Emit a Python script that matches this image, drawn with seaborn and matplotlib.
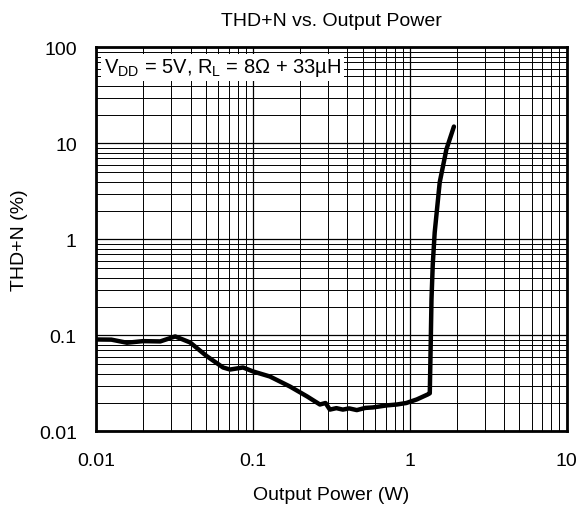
import matplotlib
matplotlib.use("Agg")
import matplotlib.pyplot as plt
import matplotlib.ticker as mticker
import pandas as pd
import seaborn as sns

# values
power_w = [0.0101, 0.0125, 0.0157, 0.0199, 0.0256, 0.0319, 0.0397, 0.0507,
           0.0644, 0.0714, 0.0864, 0.1, 0.128, 0.172, 0.221, 0.267, 0.29,
           0.309, 0.34, 0.374, 0.41, 0.459, 0.52, 0.581, 0.714, 0.826,
           0.95, 1.11, 1.30, 1.34, 1.36, 1.374, 1.40, 1.44, 1.55, 1.71, 1.91]
thd_pct = [0.0908, 0.0905, 0.084, 0.0873, 0.0867, 0.0977, 0.0846, 0.0609,
           0.0464, 0.0442, 0.0464, 0.0422, 0.0374, 0.0294, 0.0232, 0.0191,
           0.0198, 0.0169, 0.0175, 0.0169, 0.0174, 0.0167, 0.0176, 0.0178,
           0.0187, 0.0191, 0.0198, 0.0216, 0.0243, 0.025, 0.09, 0.237,
           0.55, 1.18, 3.93, 8.66, 15.0]

df = pd.DataFrame({"power": power_w, "thd": thd_pct})

sns.set_style("white")
plt.rcParams["font.family"] = ["Liberation Sans", "DejaVu Sans"]
plt.rcParams["mathtext.fontset"] = "custom"
plt.rcParams["mathtext.rm"] = "Liberation Sans"
plt.rcParams["text.color"] = "black"
plt.rcParams["axes.labelcolor"] = "black"
plt.rcParams["xtick.color"] = "black"
plt.rcParams["ytick.color"] = "black"

fig, ax = plt.subplots(figsize=(5.83, 5.10), dpi=100)
sns.lineplot(data=df, x="power", y="thd", color="black", linewidth=3.2,
             ax=ax, sort=False)
ax.set_xscale("log")
ax.set_yscale("log")
ax.set_xlim(0.01, 10)
ax.set_ylim(0.01, 100)

ax.xaxis.set_major_formatter(mticker.FuncFormatter(lambda v, p: f"{v:g}"))
ax.yaxis.set_major_formatter(mticker.FuncFormatter(lambda v, p: f"{v:g}"))
ax.xaxis.set_minor_formatter(mticker.NullFormatter())
ax.yaxis.set_minor_formatter(mticker.NullFormatter())
ax.xaxis.set_minor_locator(mticker.LogLocator(base=10, subs=range(2, 10), numticks=20))
ax.yaxis.set_minor_locator(mticker.LogLocator(base=10, subs=range(2, 10), numticks=20))

ax.grid(True, which="major", color="black", linewidth=0.9)
ax.grid(True, which="minor", color="black", linewidth=0.7)
ax.set_axisbelow(True)
ax.tick_params(which="both", length=0, labelsize=14, colors="black")
ax.tick_params(axis="x", pad=15)
ax.tick_params(axis="y", pad=14)
for s in ax.spines.values():
    s.set_color("black")
    s.set_linewidth(2)

ax.set_title("THD+N vs. Output Power", fontsize=14, pad=16, color="black")
ax.set_xlabel("Output Power (W)", fontsize=14, labelpad=12)
ax.set_ylabel("THD+N (%)", fontsize=14, labelpad=8)

ax.text(0.017, 0.935,
        r"V$_{\mathregular{DD}}$ = 5V, R$_{\mathregular{L}}$ = 8Ω + 33µH",
        transform=ax.transAxes, ha="left", va="baseline", fontsize=14.5,
        bbox=dict(facecolor="white", edgecolor="none", pad=2))

fig.subplots_adjust(left=0.165, right=0.972, top=0.905, bottom=0.152)
fig.savefig("out.png", dpi=100)
